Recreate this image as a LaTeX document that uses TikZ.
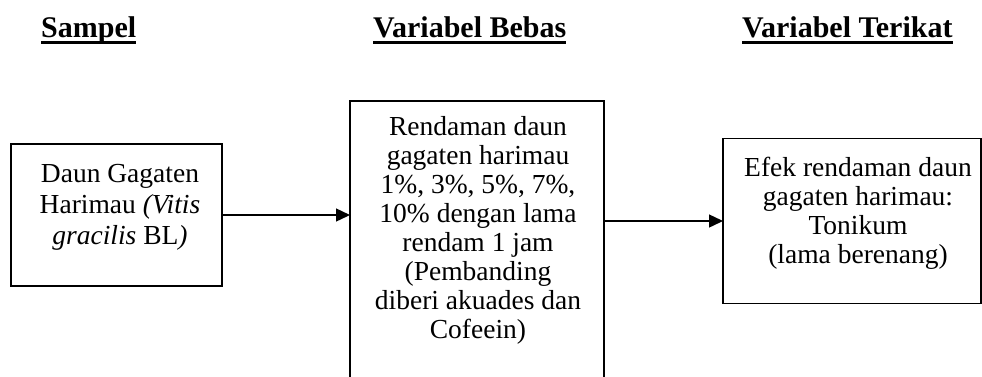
\documentclass[tikz,border=0pt]{standalone}
\usepackage{fontspec}
\setmainfont{Liberation Serif}
\usetikzlibrary{arrows.meta}
\tikzset{
  boxnode/.style={draw, line width=1.2pt, inner sep=0pt, outer sep=0pt},
  headnode/.style={anchor=base west, inner sep=0pt, font=\fontsize{30}{36}\selectfont\bfseries},
  bodytext/.style={anchor=base, inner sep=0pt},
  ulinestyle/.style={line width=3pt},
  arrowstyle/.style={line width=1.4pt, -{Triangle[length=14pt,width=13pt]}}
}
\begin{document}
\begin{tikzpicture}[x=1pt,y=-1pt]
\useasboundingbox (0,0) rectangle (982,376);
% headers
\node[headnode] (h1) at (41,37) {Sampel};
\node[headnode] (h2) at (373,37) {Variabel Bebas};
\node[headnode] (h3) at (742,37) {Variabel Terikat};
\foreach \h in {h1,h2,h3}{
  \draw[ulinestyle] ([yshift=-5.5pt]\h.base west) -- ([yshift=-5.5pt]\h.base east);
}
% boxes
\node[boxnode, minimum width=211pt, minimum height=142pt] (b1) at (116.5,215) {};
\node[boxnode, minimum width=254pt, minimum height=289pt] (b2) at (477,245.5) {};
\node[boxnode, minimum width=258pt, minimum height=165pt] (b3) at (852,221) {};
% texts
\node[bodytext] (t1) at (120,182) {\parbox[t]{200pt}{\centering\fontsize{27.5}{31}\selectfont
Daun Gagaten\\ Harimau \textit{(Vitis}\\ \textit{gracilis} BL\textit{)}}};
\node[bodytext] (t2) at (478,135) {\parbox[t]{250pt}{\centering\fontsize{27.5}{29}\selectfont
Rendaman daun\\ gagaten harimau\\ 1\%, 3\%, 5\%, 7\%,\\ 10\% dengan lama\\ rendam 1 jam\\ (Pembanding\\ diberi akuades dan\\ Cofeein)}};
\node[bodytext] (t3) at (858,176) {\parbox[t]{250pt}{\centering\fontsize{27.5}{29}\selectfont
Efek rendaman daun\\ gagaten harimau:\\ Tonikum\\ (lama berenang)}};
% arrows
\draw[arrowstyle] (b1.east) -- (b1.east -| b2.west);
\draw[arrowstyle] (b3.west -| b2.east) -- (b3.west);
\end{tikzpicture}
\end{document}
